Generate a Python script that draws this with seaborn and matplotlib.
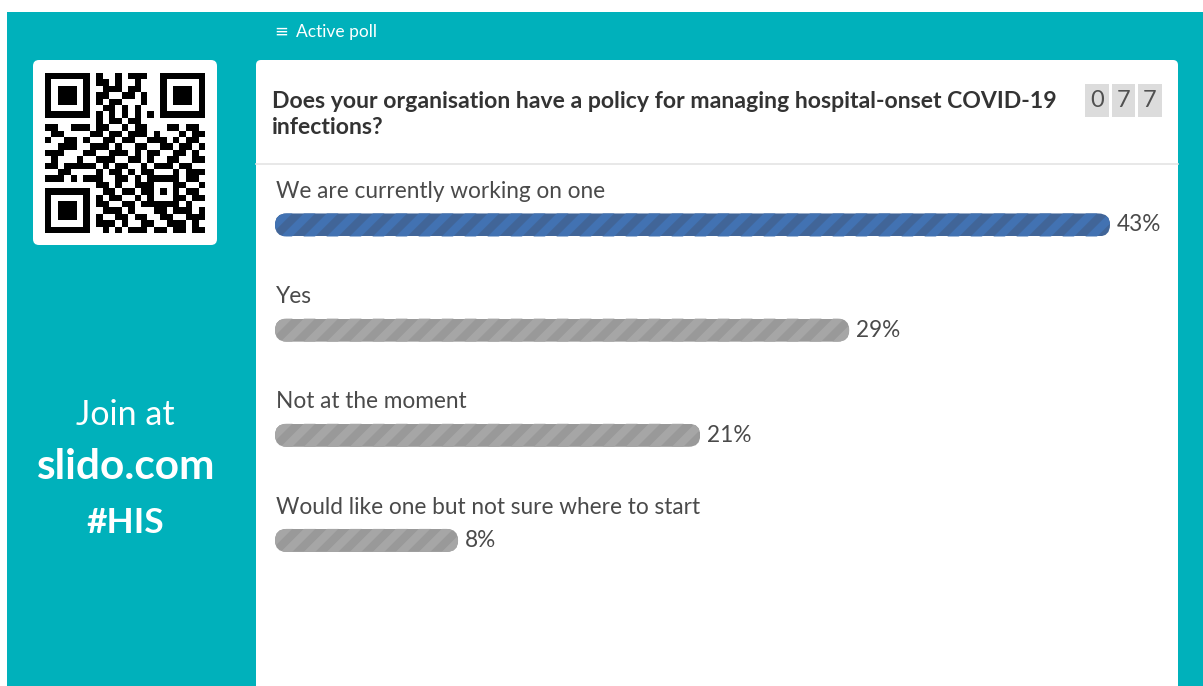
import numpy as np
import pandas as pd
import matplotlib
matplotlib.use("Agg")
import matplotlib.pyplot as plt
from matplotlib.patches import Rectangle, FancyBboxPatch
from matplotlib.collections import LineCollection
import seaborn as sns

# poll data
question = "Does your organisation have a policy for managing hospital-onset COVID-19\ninfections?"
options = ["We are currently working on one", "Yes", "Not at the moment",
           "Would like one but not sure where to start"]
percents = [43, 29, 21, 8]
total_votes = 77

# qr code modules (approximate transcription, 25 x 25)
qr_rows = [
    "1111111" + "01001011100" + "1111111",
    "1000001" + "01101001000" + "1000001",
    "1011101" + "00111011000" + "1011101",
    "1011101" + "01100110100" + "1011101",
    "1011101" + "01011000100" + "1011101",
    "1000001" + "00110101000" + "1000001",
    "1111111" + "01010101010" + "1111111",
    "00000000" + "101101100" + "00000000",
    "1100111" + "0" + "11001011000110110",
    "0110000" + "1" + "10110111010001011",
    "1001101" + "0" + "01101100111010110",
    "0011100" + "1" + "11010011001101101",
    "1110001" + "1" + "00111010110011010",
    "0100010" + "0" + "11100110100110011",
    "1101111" + "1" + "01011001011101100",
    "0011000" + "0" + "10110101100010111",
    "1110101" + "1" + "10011010" + "11111" + "0110",
    "00000000" + "11010011" + "10001" + "1001",
    "1111111" + "0" + "01101101" + "10101" + "0110",
    "1000001" + "0" + "10110010" + "10001" + "1011",
    "1011101" + "0" + "11001101" + "11111" + "0100",
    "1011101" + "0" + "01110100" + "01101" + "1101",
    "1011101" + "0" + "10011011" + "00110" + "0111",
    "1000001" + "0" + "11101001" + "10011" + "1010",
    "1111111" + "0" + "01010111" + "01101" + "1011",
]

TEAL = "#00B1BB"
BLUE, BLUE_STRIPE = "#3363A6", "#4272B2"
GREY, GREY_STRIPE = "#999999", "#A6A6A6"
TEXT = "#4A4A4A"

W, H = 1203, 686
plt.rcParams["font.family"] = ["Lato", "DejaVu Sans"]

fig = plt.figure(figsize=(W / 100, H / 100), dpi=100)
fig.patch.set_facecolor("white")

# background canvas in pixel units
bg = fig.add_axes([0, 0, 1, 1])
bg.set_xlim(0, W)
bg.set_ylim(H, 0)
bg.axis("off")

bg.add_patch(Rectangle((7, 12), W, H, color=TEAL, lw=0))
bg.add_patch(FancyBboxPatch((33, 60), 184, 185, boxstyle="round,pad=0,rounding_size=6",
                            fc="white", ec="none"))
bg.add_patch(FancyBboxPatch((256, 60), 922, 650, boxstyle="round,pad=0,rounding_size=5",
                            fc="white", ec="none"))
bg.plot([256, 1178], [164, 164], color="#E4E4E4", lw=1.2)

bg.text(281, 32, "≡", color="white", fontsize=12, ha="center", va="center",
        family=["DejaVu Sans"])
bg.text(296, 32, "Active poll", color="white", fontsize=12.5, ha="left", va="center")

bg.text(272, 114.5, question, color="#333333", fontsize=16.6, fontweight="bold",
        ha="left", va="center", linespacing=1.33)

for k, digit in enumerate(f"{total_votes:03d}"):
    x0 = 1085 + k * 26.5
    bg.add_patch(Rectangle((x0, 84), 23.5, 33, color="#DCDCDC", lw=0))
    bg.text(x0 + 11.75, 100.5, digit, color="#505050", fontsize=17, ha="center",
            va="center")

bg.text(125, 415, "Join at", color="white", fontsize=24.5, ha="center", va="center")
bg.text(125, 467, "slido.com", color="white", fontsize=30.5, fontweight="bold",
        ha="center", va="center")
bg.text(125, 523, "#HIS", color="white", fontsize=25.5, fontweight="bold",
        ha="center", va="center")

# qr code
qr = np.array([[int(c) for c in row] for row in qr_rows])
ax_qr = fig.add_axes([45 / W, 1 - 233 / H, 160 / W, 160 / H])
ax_qr.imshow(qr, cmap="gray_r", interpolation="nearest", aspect="auto")
ax_qr.axis("off")

# poll bars
top, bottom, left, right = 172.4, 593.0, 275, 1110
ax = fig.add_axes([left / W, 1 - bottom / H, (right - left) / W, (bottom - top) / H])
ax.patch.set_alpha(0)

df = pd.DataFrame({"option": options, "pct": percents})
colors = [BLUE] + [GREY] * (len(options) - 1)
sns.barplot(data=df, x="pct", y="option", hue="option", palette=colors, orient="h",
            width=0.219, legend=False, ax=ax)

pad = 1.83
xmax = max(percents)
ax.set_xlim(-pad, xmax)
ax.set_ylim(len(options) - 0.5, -0.5)
ax.axis("off")

px_x = (right - left) / (xmax + pad)
px_y = (bottom - top) / len(options)
stripe_period = 23 / px_x          # horizontal stripe period, in x units
stripe_lw = 23 / np.sqrt(2) / 2 * 0.72  # half the perpendicular period, in points

for bar in list(ax.patches):
    x0, y0 = bar.get_x(), bar.get_y()
    w, h = bar.get_width(), bar.get_height()
    i = int(round(y0 + h / 2))
    # bars start at the left edge of the track
    end = x0 + w
    bar.set_x(-pad)
    bar.set_width(end + pad)
    bar.set_linewidth(0)
    r = (h * px_y / 2) / px_x
    clip = FancyBboxPatch((-pad, y0), end + pad, h,
                          boxstyle=f"round,pad=0,rounding_size={r}",
                          mutation_aspect=px_x / px_y, transform=ax.transData)
    bar.set_clip_path(clip)

    # diagonal stripes at 45 degrees on screen
    hx = h * px_y / px_x
    starts = np.arange(-pad - 2 * hx, end + hx, stripe_period)
    segs = [[(s, y0 + 1.5 * h), (s + 2 * hx, y0 - 0.5 * h)] for s in starts]
    lc = LineCollection(segs, colors=BLUE_STRIPE if i == 0 else GREY_STRIPE,
                        linewidths=stripe_lw, capstyle="butt", zorder=bar.get_zorder() + 0.1)
    ax.add_collection(lc)
    lc.set_clip_path(clip)

for i, (label, pct) in enumerate(zip(options, percents)):
    ax.annotate(label, xy=(0, i), xycoords=("axes fraction", "data"), xytext=(1, 24),
                textcoords="offset points", va="center", ha="left", fontsize=16.3,
                color=TEXT)
    ax.annotate(f"{pct}%", xy=(pct, i), xytext=(5, 0), textcoords="offset points",
                va="center", ha="left", fontsize=16.3, color=TEXT)

ax.set_xlim(-pad, xmax)
ax.set_ylim(len(options) - 0.5, -0.5)

fig.savefig("out.png", dpi=100)
